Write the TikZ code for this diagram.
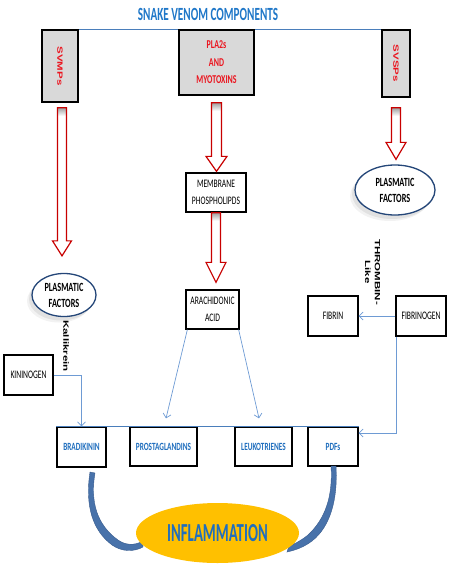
\documentclass[tikz,border=0pt]{standalone}
\usepackage{fontspec}
\setmainfont{Carlito}
\newfontfamily\calf{Carlito}[FakeStretch=0.66]
\newfontfamily\calft{Carlito}[FakeStretch=0.6]
\newfontfamily\calfn{Carlito}[FakeStretch=0.57]
\newfontfamily\arf{Liberation Sans}
\usetikzlibrary{arrows.meta,calc,shapes.geometric,shadows,backgrounds}
\definecolor{titleblue}{RGB}{31,119,200}
\definecolor{txtblue}{RGB}{31,110,190}
\definecolor{lineblue}{RGB}{74,126,187}
\definecolor{connblue}{RGB}{110,155,212}
\definecolor{ellblue}{RGB}{36,70,120}
\definecolor{redtxt}{RGB}{235,20,30}
\definecolor{redarr}{RGB}{200,0,0}
\definecolor{boxgray}{RGB}{217,217,217}
\definecolor{gold}{RGB}{255,192,0}
\definecolor{curveblue}{RGB}{72,114,170}
\definecolor{curveedge}{RGB}{55,90,140}
\tikzset{
  topbox/.style={draw=black, line width=1.6pt, fill=boxgray, inner sep=0pt, align=center},
  blkbox/.style={draw=black, line width=1.3pt, fill=white, inner sep=0pt, align=center,
    font=\calf\fontsize{11.5}{16.5}\selectfont},
  bluebox/.style={blkbox, text=txtblue, font=\calf\bfseries\fontsize{11}{13}\selectfont},
  plasma/.style={ellipse, draw=ellblue, line width=1.3pt, fill=white, inner sep=0pt, align=center,
    font=\calf\bfseries\fontsize{12.5}{16}\selectfont,
    drop shadow={shadow xshift=-5pt, shadow yshift=-6pt, fill=black, opacity=0.05},
    drop shadow={shadow xshift=-3pt, shadow yshift=-4pt, fill=black, opacity=0.07}},
  rottext/.style={rotate=-90, inner sep=0pt, font=\arf\bfseries\fontsize{11.5}{15}\selectfont},
  conn/.style={draw=connblue, line width=0.7pt, -{Straight Barb[length=4pt,width=8pt]}},
  hollowline/.style={draw=redarr, line width=1.2pt, line join=miter},
  curvearr/.style={fill=curveblue, draw=curveedge, line width=0.4pt}
}
\newcommand\vsq[1]{\scalebox{1}[0.66]{#1}}
% #1 start, #2 tip, #3 head length, #4 shaft half width, #5 head half width
\newcommand\hollowarr[5]{%
  \path[fill=white] let \p1=#1, \p2=#2 in
    (\x1-#4,\y1) -- (\x1+#4,\y1) -- (\x1+#4,\y2+#3) -- (\x1+#5,\y2+#3) -- (\x1,\y2)
    -- (\x1-#5,\y2+#3) -- (\x1-#4,\y2+#3) -- cycle;
  \shade[top color=gray!75, bottom color=white] let \p1=#1 in
    (\x1-#4,\y1) rectangle (\x1+#4,\y1-8pt);
  \draw[hollowline] let \p1=#1, \p2=#2 in
    (\x1-#4,\y1) -- (\x1+#4,\y1) -- (\x1+#4,\y2+#3) -- (\x1+#5,\y2+#3) -- (\x1,\y2)
    -- (\x1-#5,\y2+#3) -- (\x1-#4,\y2+#3) -- cycle;
}
\begin{document}
\begin{tikzpicture}[x=1pt,y=-1pt]
\useasboundingbox (0,0) rectangle (455,568);
% title
\node[text=titleblue, font=\calft\bfseries\fontsize{18.6}{20}\selectfont] (title) at (208,14) {SNAKE VENOM COMPONENTS};
% top boxes
\node[topbox, minimum width=36pt, minimum height=72pt] (svmp) at (60,66) {};
\node[rottext, text=redtxt] (svmpt) at (svmp.center) {\vsq{SVMPs}};
\node[topbox, minimum width=75pt, minimum height=65pt, text=redtxt,
  font=\calf\bfseries\fontsize{12}{17.5}\selectfont] (pla) at (216.5,62.5) {PLA2s\\AND\\MYOTOXINS};
\node[topbox, minimum width=28pt, minimum height=67pt] (svsp) at (396,63.5) {};
\node[rottext, text=redtxt] (svspt) at (svsp.center) {\vsq{SVSPs}};
\begin{pgfonlayer}{background}
\draw[lineblue, line width=1.3pt] (svmp.north east) -- (svsp.north west);
\end{pgfonlayer}
% middle column
\node[blkbox, minimum width=60pt, minimum height=39pt] (memb) at (216,192.5) {MEMBRANE\\PHOSPHOLIPDS};
\node[blkbox, minimum width=53pt, minimum height=39pt] (arach) at (212.5,309.5) {ARACHIDONIC\\ACID};
% plasmatic factors
\node[plasma, minimum width=64pt, minimum height=43pt] (pfl) at (64,295) {PLASMATIC\\FACTORS};
\node[plasma, minimum width=80pt, minimum height=50pt] (pfr) at (395,190) {PLASMATIC\\FACTORS};
% hollow red arrows
\hollowarr{($(svmp.south)+(2,5)$)}{($(pfl.north)+(0,-17)$)}{15pt}{4.5pt}{9.5pt}
\hollowarr{($(pla.south)+(0,7)$)}{($(memb.north)+(0,-1)$)}{15pt}{5pt}{10.5pt}
\hollowarr{($(memb.south)+(0,0)$)}{($(arach.north)+(0,-7)$)}{20pt}{4.5pt}{10pt}
\hollowarr{($(svsp.south)+(0,10)$)}{($(pfr.north)+(0,-5)$)}{17pt}{4.5pt}{10pt}
% rotated labels
\node[rottext] (kall) at (66,346) {\vsq{Kallikrein}};
\node[rottext] (thr) at (372,272) {\vsq{\begin{tabular}{@{}c@{}}THROMBIN-\\Like\end{tabular}}};
% side boxes
\node[blkbox, minimum width=49pt, minimum height=40pt] (kin) at (28.5,375) {KININOGEN};
\node[blkbox, minimum width=50pt, minimum height=40pt] (fib) at (333,316) {FIBRIN};
\node[blkbox, minimum width=50pt, minimum height=40pt] (fgn) at (421,316) {FIBRINOGEN};
% bottom boxes
\node[bluebox, minimum width=49pt, minimum height=40pt] (brad) at (81.5,447) {BRADIKININ};
\node[bluebox, minimum width=67pt, minimum height=39pt] (prost) at (163.5,446.5) {PROSTAGLANDINS};
\node[bluebox, minimum width=57pt, minimum height=39pt] (leuk) at (263.5,446.5) {LEUKOTRIENES};
\node[bluebox, minimum width=50pt, minimum height=39pt] (pdfs) at (333,446.5) {PDFs};
\draw[lineblue, line width=1.3pt] (brad.north west) -- (pdfs.north east);
% thin connectors
\draw[conn] (kin.east) -| (brad.north);
\draw[conn] ($(arach.south west)+(2,0)$) -- ($(prost.north)+(2.5,-8)$);
\draw[conn] ($(arach.south east)+(-1,0)$) -- ($(leuk.north)+(-4.5,-8)$);
\draw[conn] (fgn.west) -- (fib.east);
\draw[conn] ($(fgn.south west)+(1,0)$) |- ($(pdfs.east)+(0,-13.5)$);
% curved arrows
\fill[curvearr] (90,472) .. controls (85,505) and (92,530) .. (112,545)
  .. controls (122,552) and (134,552) .. (143,547)
  -- (143,541) .. controls (134,546) and (125,545) .. (118,540)
  .. controls (97,525) and (90,502) .. (95,473) -- cycle;
\fill[curvearr] (336,466) .. controls (338,500) and (330,527) .. (312,541)
  .. controls (304,547) and (296,550) .. (287,552)
  -- (289,546) .. controls (297,543) and (303,539) .. (308,535)
  .. controls (325,519) and (333,497) .. (331,466) -- cycle;
% inflammation
\node[ellipse, fill=gold, inner sep=0pt, minimum width=163pt, minimum height=60pt,
  text=txtblue, font=\calfn\bfseries\fontsize{26}{28}\selectfont] (infl) at (217.5,533) {INFLAMMATION};
\end{tikzpicture}
\end{document}
